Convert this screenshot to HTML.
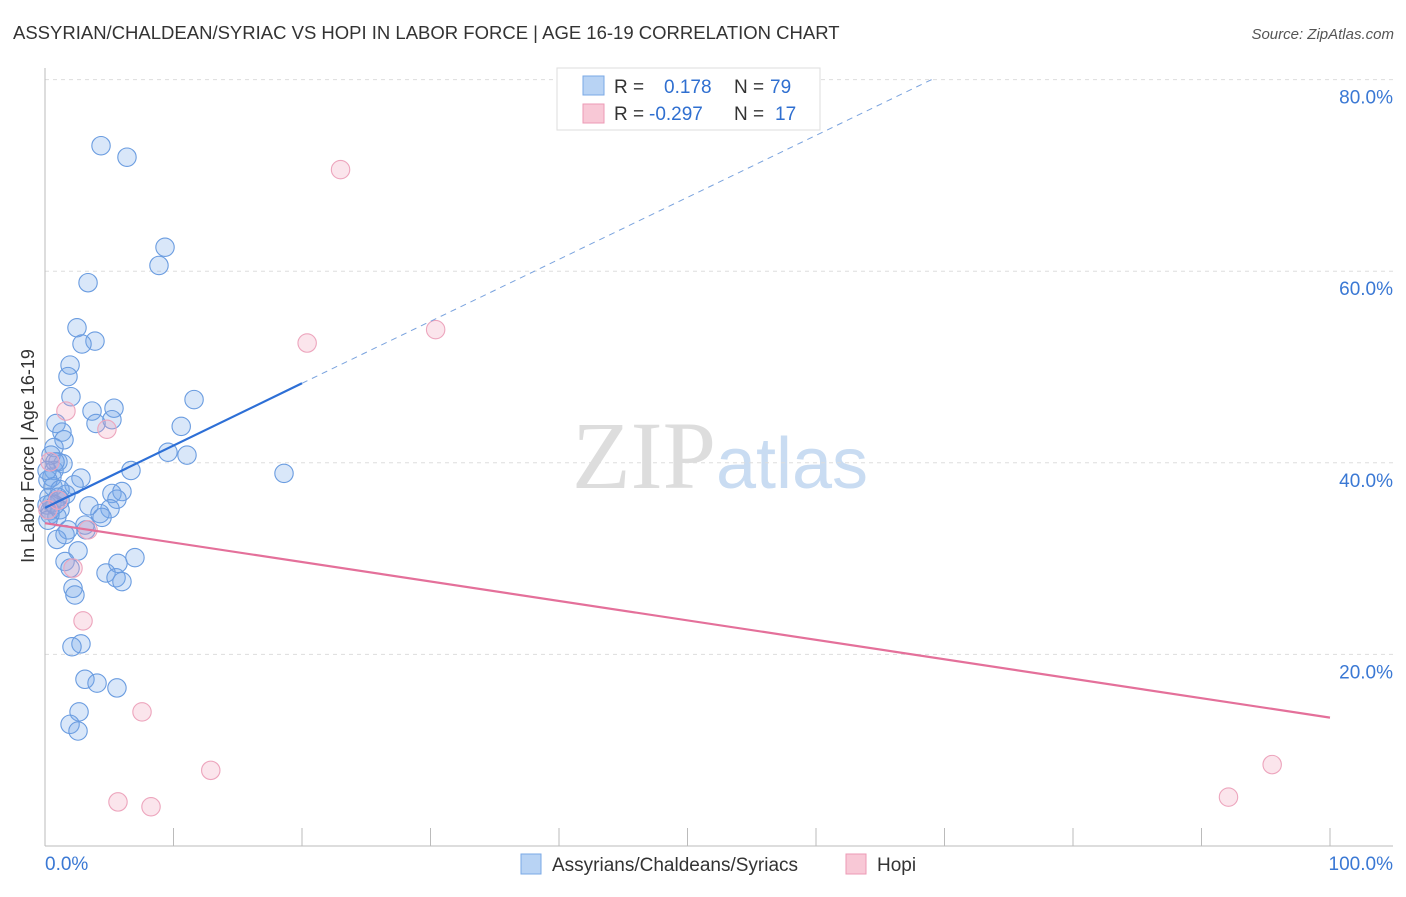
<!DOCTYPE html>
<html><head><meta charset="utf-8"><style>
body{margin:0;background:#fff;font-family:"Liberation Sans",sans-serif}
</style></head><body>
<svg id="c" width="1406" height="892" xmlns="http://www.w3.org/2000/svg" font-family="Liberation Sans, sans-serif">
<text x="13" y="39" font-size="18.5" fill="#333">ASSYRIAN/CHALDEAN/SYRIAC VS HOPI IN LABOR FORCE | AGE 16-19 CORRELATION CHART</text>
<text x="1394" y="39" font-size="15" fill="#555" text-anchor="end" font-style="italic">Source: ZipAtlas.com</text>
<text x="720" y="488" font-size="96" text-anchor="middle" fill="#ddd" font-family="Liberation Serif, serif">ZIP<tspan fill="#c9dcf2" font-family="Liberation Sans, sans-serif" font-size="72">atlas</tspan></text>
<text transform="translate(34,456) rotate(-90)" font-size="18" fill="#333" text-anchor="middle">In Labor Force | Age 16-19</text>
<g id="grid"></g><g id="pts"></g>
<g>
<rect x="557" y="68" width="263" height="62" fill="#fff" stroke="#ddd"/>
<rect x="583" y="76" width="21" height="19" fill="#b8d3f4" stroke="#7aa8e6"/>
<rect x="583" y="104" width="21" height="19" fill="#f8c8d6" stroke="#ec9ab5"/>
<text x="614" y="93" font-size="19" fill="#333">R =</text><text x="664" y="93" font-size="19" fill="#2f6fd0">0.178</text>
<text x="734" y="93" font-size="19" fill="#333">N =</text><text x="770" y="93" font-size="19" fill="#2f6fd0">79</text>
<text x="614" y="120" font-size="19" fill="#333">R =</text><text x="649" y="120" font-size="19" fill="#2f6fd0">-0.297</text>
<text x="734" y="120" font-size="19" fill="#333">N =</text><text x="775" y="120" font-size="19" fill="#2f6fd0">17</text>
</g>
<g>
<rect x="521" y="854" width="20" height="20" fill="#b8d3f4" stroke="#7aa8e6"/>
<text x="552" y="871" font-size="19" fill="#333">Assyrians/Chaldeans/Syriacs</text>
<rect x="846" y="854" width="20" height="20" fill="#f8c8d6" stroke="#ec9ab5"/>
<text x="877" y="871" font-size="19" fill="#333">Hopi</text>
</g>
</svg>
<script>
const blueX=[4.36,6.38,9.34,8.87,3.35,2.49,3.89,2.88,1.95,1.79,2.02,5.37,3.66,11.6,5.21,3.97,10.6,0.86,1.32,1.48,9.57,11.05,0.70,1.01,0.70,1.40,6.69,18.6,0.54,2.80,2.26,0.62,1.63,5.21,5.99,0.31,3.42,5.60,5.06,4.28,4.44,0.54,0.39,0.93,3.19,1.79,0.93,2.57,7.00,5.68,1.56,1.95,4.75,5.53,5.99,2.18,2.33,2.80,2.10,3.11,4.05,5.60,2.65,1.95,2.57,0.23,0.16,0.39,1.17,1.01,0.47,0.78,0.16,1.17,0.23,1.56,3.11,1.17,0.78];
const blueY=[73.1,71.9,62.5,60.6,58.8,54.1,52.7,52.4,50.2,49.0,46.9,45.7,45.4,46.6,44.5,44.1,43.8,44.1,43.2,42.4,41.1,40.8,41.6,40.1,39.2,39.9,39.2,38.9,38.5,38.4,37.7,37.5,36.7,36.8,37.0,36.4,35.5,36.2,35.2,34.7,34.3,35.8,35.0,34.4,33.0,33.0,32.0,30.8,30.1,29.5,29.7,29.0,28.5,28.0,27.6,26.9,26.2,21.1,20.8,17.4,17.0,16.5,14.0,12.7,12.0,38.2,35.6,34.6,36.1,36.4,40.8,40.1,39.2,37.2,34.0,32.5,33.5,35.1,35.6];
const pinkX=[23.0,20.4,30.4,1.63,4.82,0.39,1.01,3.35,2.18,2.96,7.55,12.9,5.68,8.25,92.1,95.5,0.23];
const pinkY=[70.6,52.5,53.9,45.4,43.5,40.1,36.1,33.0,29.0,23.5,14.0,7.9,4.6,4.1,5.1,8.5,35.1];
const yTicks=[20,40,60,80];
const xTicks=[0,10,20,30,40,50,60,70,80,90,100];
const blueTrend=[0,35.3,20,48.3,69,80];
const pinkTrend=[0,33.7,100,13.4];
const X=v=>45+v*12.85, Y=v=>846-v*9.58;
const NS='http://www.w3.org/2000/svg';
function mk(p,t,a){const e=document.createElementNS(NS,t);for(const k in a)e.setAttribute(k,a[k]);p.appendChild(e);return e;}
const g=document.getElementById('grid'),P=document.getElementById('pts'),svg=document.getElementById('c');
yTicks.forEach(v=>{
 const l=mk(g,'line',{x1:45,x2:1393,y1:Y(v),y2:Y(v),stroke:'#ddd','stroke-dasharray':'4,4'});
 
 
 const t=mk(g,'text',{x:1393,y:Y(v)+24,'font-size':19,fill:'#3a78d4','text-anchor':'end'});t.textContent=v.toFixed(1)+'%';
 
 
});
mk(g,'line',{x1:45,x2:45,y1:68,y2:846,stroke:'#bbb'});
mk(g,'line',{x1:45,x2:1393,y1:846,y2:846,stroke:'#bbb'});
xTicks.forEach(v=>{const l=mk(g,'line',{x1:X(v),x2:X(v),y1:828,y2:846,stroke:'#bbb'});
 
 });
const t0=mk(g,'text',{x:45,y:870,'font-size':19,fill:'#3a78d4'});t0.textContent='0.0%';


const t1=mk(g,'text',{x:1393,y:870,'font-size':19,fill:'#3a78d4','text-anchor':'end'});t1.textContent='100.0%';


blueX.forEach((v,i)=>{const c=mk(P,'circle',{cx:X(v),cy:Y(blueY[i]),r:9.2,fill:'rgba(120,170,235,0.28)',stroke:'#6a9ce0','stroke-width':1.1});
 
 });
pinkX.forEach((v,i)=>{const c=mk(P,'circle',{cx:X(v),cy:Y(pinkY[i]),r:9.2,fill:'rgba(240,160,185,0.28)',stroke:'#eda5bd','stroke-width':1.1});
 
 });
const bl=mk(P,'line',{x1:X(blueTrend[0]),y1:Y(blueTrend[1]),x2:X(blueTrend[2]),y2:Y(blueTrend[3]),stroke:'#2d6fd6','stroke-width':2.2});


const bd=mk(P,'line',{x1:X(blueTrend[2]),y1:Y(blueTrend[3]),x2:X(blueTrend[4]),y2:Y(blueTrend[5]),stroke:'#7aa3de','stroke-width':1,'stroke-dasharray':'6,5'});


const pl=mk(P,'line',{x1:X(pinkTrend[0]),y1:Y(pinkTrend[1]),x2:X(pinkTrend[2]),y2:Y(pinkTrend[3]),stroke:'#e4709a','stroke-width':2.2});


</script>
</body></html>
